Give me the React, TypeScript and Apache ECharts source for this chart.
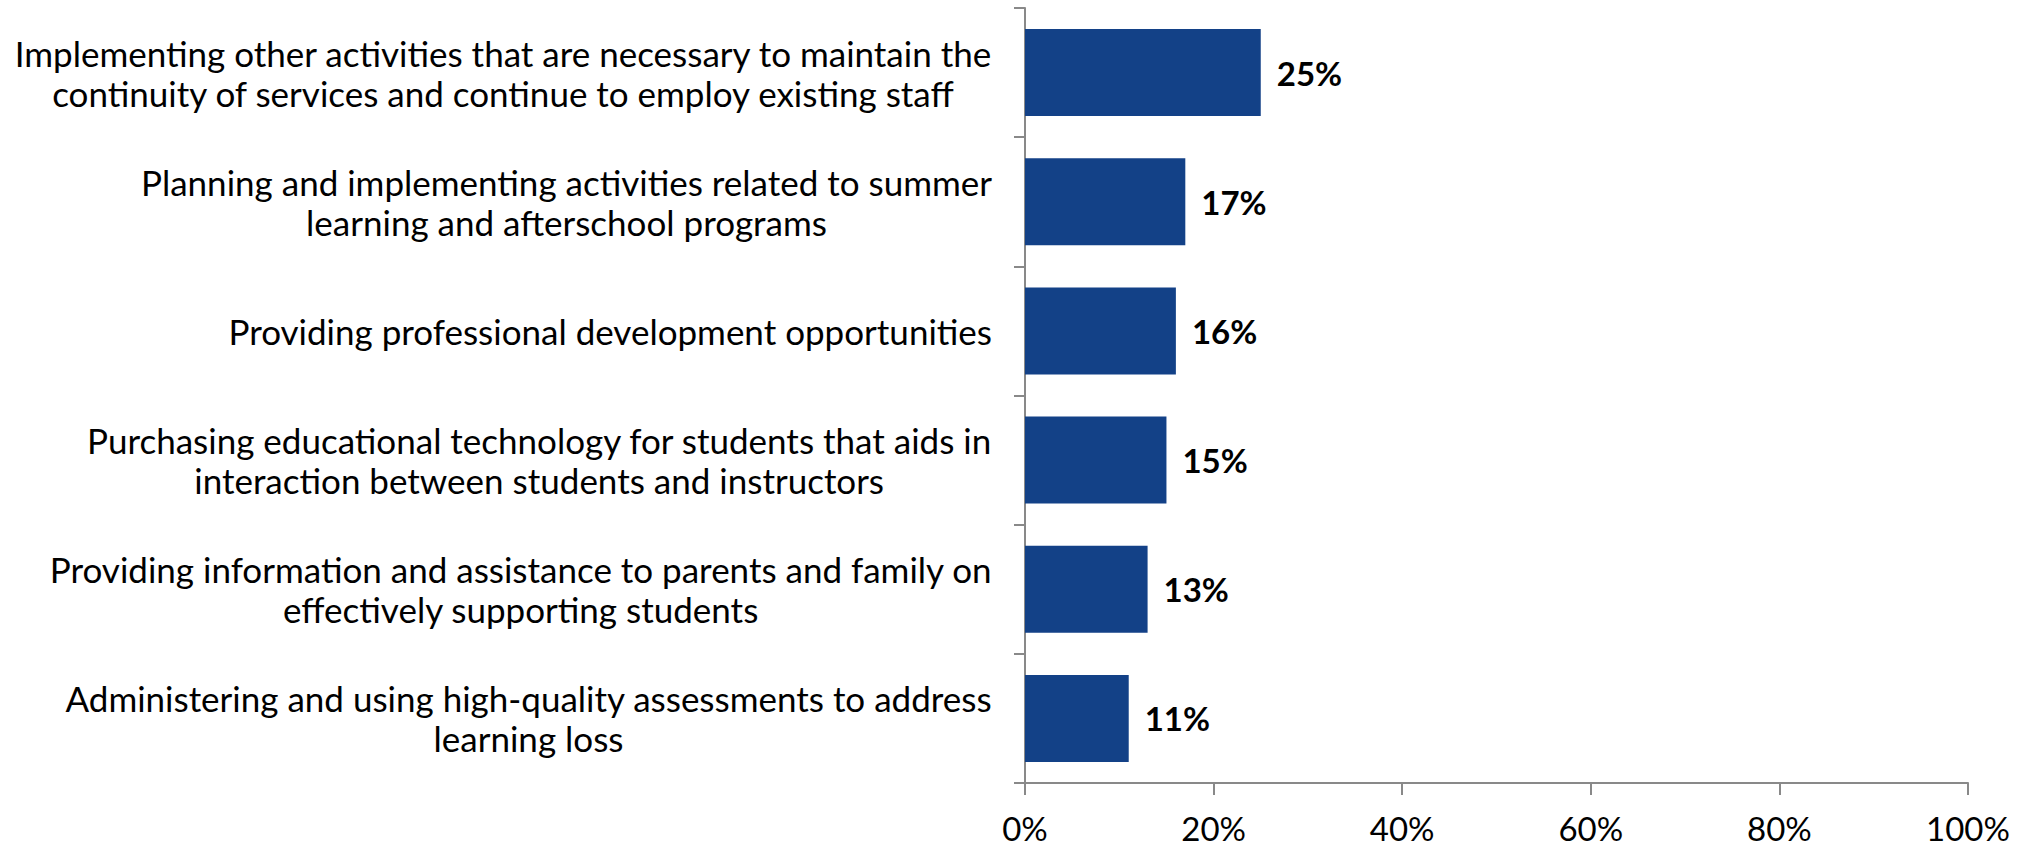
import React, { useEffect, useRef } from "react";
import * as echarts from "echarts";

const categories: string[] = [
  "Implementing other activities that are necessary to maintain the\ncontinuity of services and continue to employ existing staff",
  "Planning and implementing activities related to summer\nlearning and afterschool programs",
  "Providing professional development opportunities",
  "Purchasing educational technology for students that aids in\ninteraction between students and instructors",
  "Providing information and assistance to parents and family on\neffectively supporting students",
  "Administering and using high-quality assessments to address\nlearning loss",
];

const values: number[] = [25, 17, 16, 15, 13, 11];

const xTicks: number[] = [0, 20, 40, 60, 80, 100];

const FONT = "Lato";
const AXIS_GRAY = "#898989";

export default function App() {
  const ref = useRef<HTMLDivElement>(null);

  useEffect(() => {
    if (!ref.current) return;
    const chart = echarts.init(ref.current, undefined, { renderer: "svg" });
    chart.setOption({
      animation: false,
      backgroundColor: "#ffffff",
      grid: { left: 1025, right: 60, top: 8, bottom: 63, containLabel: false },
      xAxis: {
        type: "value",
        min: xTicks[0],
        max: xTicks[xTicks.length - 1],
        interval: 20,
        axisLine: { show: true, lineStyle: { color: AXIS_GRAY, width: 2 } },
        axisTick: { show: true, length: 12, lineStyle: { color: AXIS_GRAY, width: 2 } },
        splitLine: { show: false },
        axisLabel: {
          formatter: (v: number) => `${v}%`,
          fontFamily: FONT,
          fontSize: 33,
          lineHeight: 33,
          color: "#000000",
          margin: 28,
        },
      },
      yAxis: {
        type: "category",
        inverse: true,
        data: categories,
        axisLine: { show: true, lineStyle: { color: AXIS_GRAY, width: 2 } },
        axisTick: { show: true, length: 11, lineStyle: { color: AXIS_GRAY, width: 2 } },
        axisLabel: {
          margin: 33,
          align: "right",
          formatter: (v: string) =>
            v
              .split("\n")
              .map((l) => `{c|${l}}`)
              .join("\n"),
          rich: {
            c: {
              align: "center",
              fontFamily: FONT,
              fontSize: 35,
              lineHeight: 40,
              color: "#000000",
            },
          },
        },
      },
      series: [
        {
          type: "bar",
          data: values,
          barCategoryGap: "32.6%",
          itemStyle: { color: "#134187" },
          label: {
            show: true,
            position: "right",
            distance: 16,
            formatter: (p: any) => `${p.value}%`,
            fontFamily: FONT,
            fontWeight: "bold",
            fontSize: 33,
            color: "#000000",
          },
        },
      ],
    });
    return () => chart.dispose();
  }, []);

  return (
    <div
      ref={ref}
      style={{ position: "absolute", left: 0, top: 0, width: 2028, height: 846 }}
    />
  );
}
